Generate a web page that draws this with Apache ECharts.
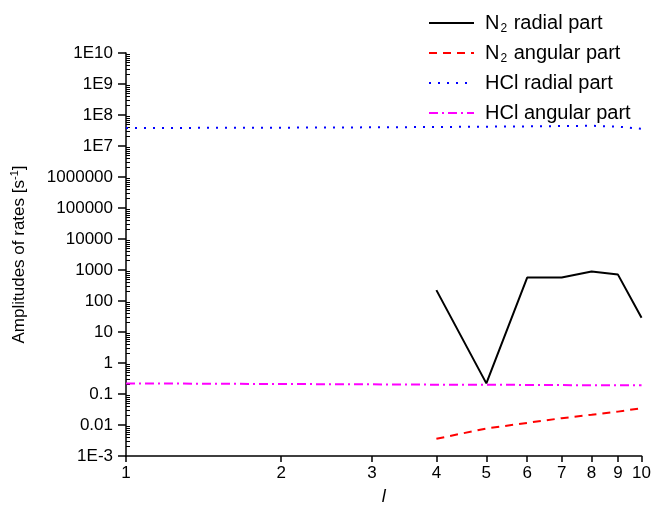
<!DOCTYPE html>
<html>
<head>
<meta charset="utf-8">
<script src="https://cdn.jsdelivr.net/npm/echarts@6/dist/echarts.min.js"></script>
<style>
  html, body { margin: 0; padding: 0; background: #fff; }
  #chart { width: 654px; height: 511px; }
</style>
</head>
<body>
<div id="chart"></div>
<script>
// Angular momentum quantum number l
const lValues = [1, 2, 3, 4, 5, 6, 7, 8, 9, 10];
const lN2 = [4, 5, 6, 7, 8, 9, 10];

// Rate amplitudes [s^-1]
const n2Radial = [224, 0.22, 570, 570, 890, 710, 29];
const n2Angular = [0.0036, 0.0077, 0.0117, 0.0166, 0.0214, 0.027, 0.035];
const hclRadial = [3.8e7, 3.9e7, 4.0e7, 4.1e7, 4.2e7, 4.3e7, 4.4e7, 4.5e7, 4.2e7, 3.6e7];
const hclAngular = [0.22, 0.21, 0.205, 0.2, 0.2, 0.196, 0.194, 0.192, 0.19, 0.19];

// Y tick labels by decade exponent
const yExponents = [-3, -2, -1, 0, 1, 2, 3, 4, 5, 6, 7, 8, 9, 10];
const yTickLabels = ['1E-3', '0.01', '0.1', '1', '10', '100', '1000', '10000',
  '100000', '1000000', '1E7', '1E8', '1E9', '1E10'];
const xTickLabels = ['1', '2', '3', '4', '5', '6', '7', '8', '9', '10'];

const seriesNames = ['N2 radial part', 'N2 angular part', 'HCl radial part', 'HCl angular part'];
const legendLabels = [
  '{t|N}{sub|2}{t| radial part}',
  '{t|N}{sub|2}{t| angular part}',
  '{t|HCl radial part}',
  '{t|HCl angular part}'
];

const pairs = (xs, ys) => xs.map((x, i) => [x, ys[i]]);

// decade values and minor (2..9 x 10^k) values for the log axis
const majorValues = yExponents.map(e => Math.pow(10, e));
const minorValues = [];
yExponents.slice(0, -1).forEach(e => {
  for (let m = 2; m <= 9; m++) minorValues.push(m * Math.pow(10, e));
});

const FONT = 'Arial';
const chart = echarts.init(document.getElementById('chart'), null, { renderer: 'canvas' });

const yBase = {
  type: 'log',
  logBase: 10,
  min: 1e-3,
  max: 1e10,
  splitLine: { show: false },
  minorSplitLine: { show: false }
};

chart.setOption({
  animation: false,
  backgroundColor: '#fff',
  grid: { left: 126, right: 12, top: 53, bottom: 52, containLabel: false },
  legend: {
    orient: 'vertical',
    left: 423,
    top: 6,
    itemWidth: 45,
    itemHeight: 14,
    itemGap: 6,
    data: seriesNames,
    itemStyle: { opacity: 0 },
    formatter: function (name) { return legendLabels[seriesNames.indexOf(name)]; },
    textStyle: {
      fontFamily: FONT,
      fontSize: 20,
      lineHeight: 24,
      color: '#000',
      padding: [0, 0, 0, 6],
      rich: {
        t: { fontFamily: FONT, fontSize: 20, lineHeight: 24, color: '#000' },
        sub: { fontFamily: FONT, fontSize: 12, lineHeight: 12, color: '#000', padding: [12, 1, 0, 1] }
      }
    }
  },
  xAxis: {
    type: 'log',
    logBase: 10,
    min: 1,
    max: 10,
    name: 'l',
    nameLocation: 'middle',
    nameGap: 32,
    nameTextStyle: { fontFamily: FONT, fontSize: 18, fontStyle: 'italic', color: '#000' },
    axisLine: { lineStyle: { color: '#000', width: 1.5 } },
    axisTick: { show: true, length: 6, lineStyle: { color: '#000', width: 1.5 }, customValues: lValues },
    axisLabel: {
      fontFamily: FONT, fontSize: 17, color: '#000', margin: 9,
      customValues: lValues,
      formatter: v => xTickLabels[lValues.indexOf(Math.round(v))]
    },
    splitLine: { show: false },
    minorTick: { show: false }
  },
  yAxis: [
    Object.assign({}, yBase, {
      name: '{t|Amplitudes of rates [s}{sup|-1}{t|]}',
      nameLocation: 'middle',
      nameGap: 96,
      nameRotate: 90,
      nameTextStyle: {
        fontFamily: FONT,
        fontSize: 17,
        color: '#000',
        rich: {
          t: { fontFamily: FONT, fontSize: 17, color: '#000' },
          sup: { fontFamily: FONT, fontSize: 11, color: '#000', padding: [0, 0, 10, 0] }
        }
      },
      axisLine: { show: true, lineStyle: { color: '#000', width: 1.5 } },
      axisTick: { show: true, length: 8, lineStyle: { color: '#000', width: 1.5 }, customValues: majorValues },
      axisLabel: {
        fontFamily: FONT, fontSize: 17, color: '#000', margin: 13,
        customValues: majorValues,
        formatter: v => yTickLabels[yExponents.indexOf(Math.round(Math.log10(v)))]
      }
    }),
    // inward minor ticks on the same scale
    Object.assign({}, yBase, {
      position: 'left',
      axisLine: { show: false },
      axisLabel: { show: false },
      axisTick: { show: true, inside: true, length: 4, lineStyle: { color: '#000', width: 1 }, customValues: minorValues }
    })
  ],
  series: [
    {
      name: seriesNames[0], type: 'line', yAxisIndex: 0, showSymbol: false, symbol: 'none',
      data: pairs(lN2, n2Radial),
      itemStyle: { color: '#000' },
      lineStyle: { color: '#000', width: 2, type: 'solid' }
    },
    {
      name: seriesNames[1], type: 'line', yAxisIndex: 0, showSymbol: false, symbol: 'none',
      data: pairs(lN2, n2Angular),
      itemStyle: { color: '#ff0000' },
      lineStyle: { color: '#ff0000', width: 2, type: [8, 6] }
    },
    {
      name: seriesNames[2], type: 'line', yAxisIndex: 0, showSymbol: false, symbol: 'none',
      data: pairs(lValues, hclRadial),
      itemStyle: { color: '#0000ff' },
      lineStyle: { color: '#0000ff', width: 2, type: [2, 7] }
    },
    {
      name: seriesNames[3], type: 'line', yAxisIndex: 0, showSymbol: false, symbol: 'none',
      data: pairs(lValues, hclAngular),
      itemStyle: { color: '#ff00ff' },
      lineStyle: { color: '#ff00ff', width: 2, type: [9, 4, 2, 4] }
    }
  ]
});
</script>
</body>
</html>
